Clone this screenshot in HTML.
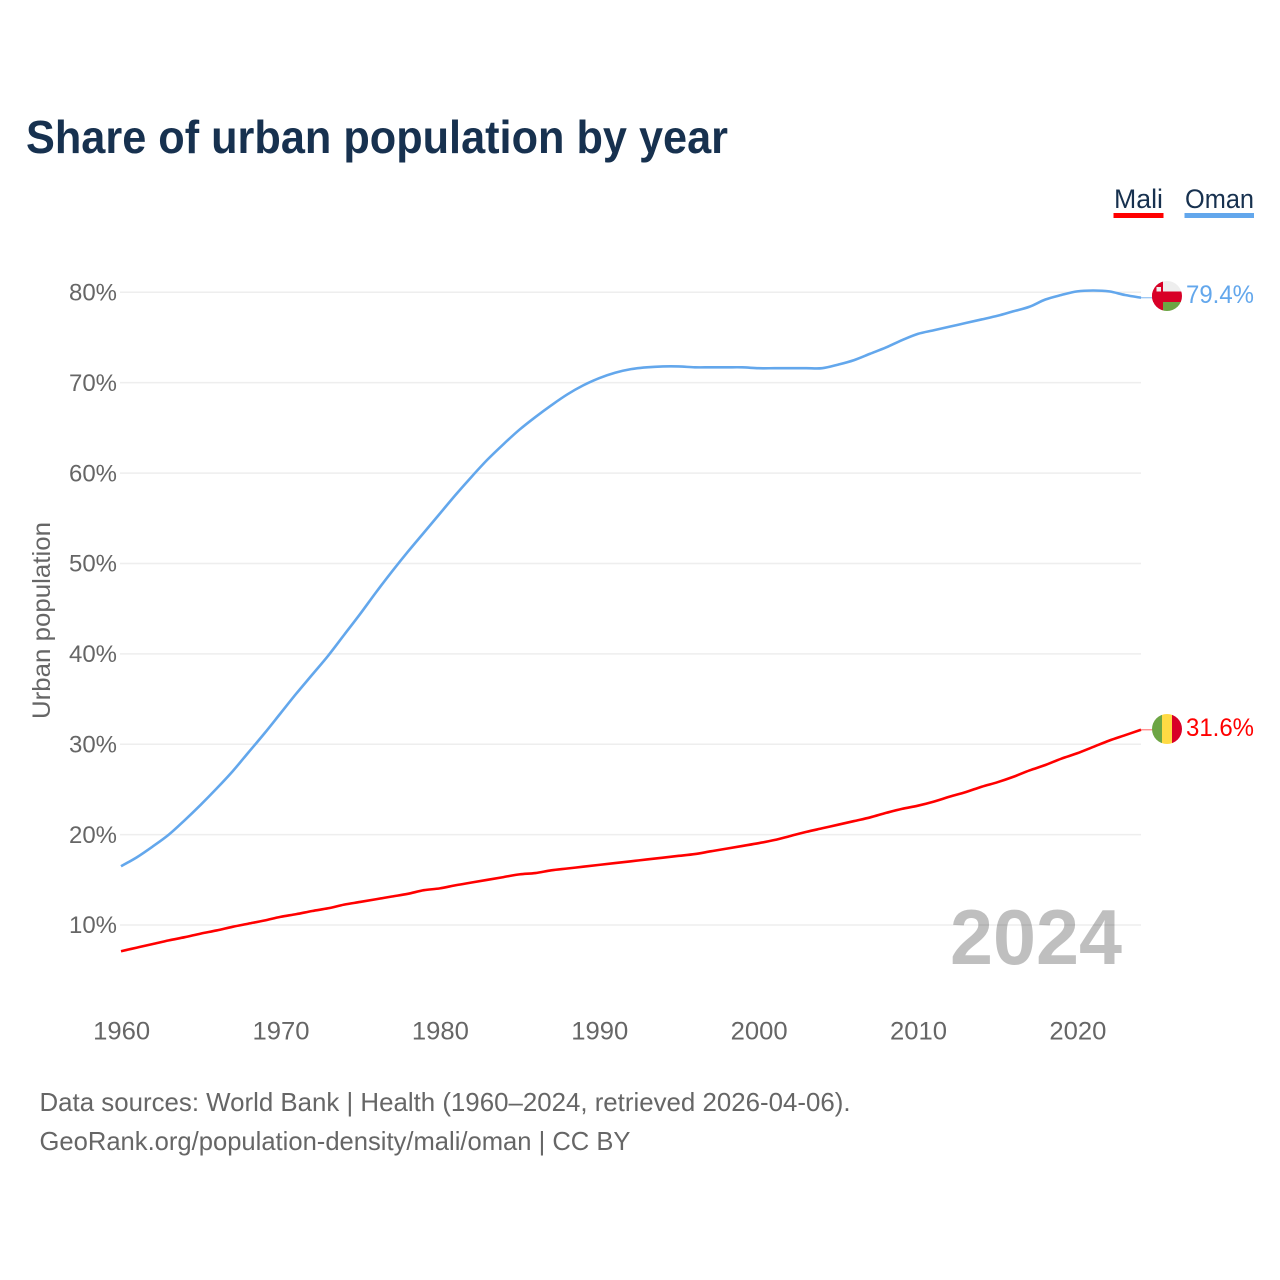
<!DOCTYPE html>
<html lang="en">
<head>
<meta charset="utf-8">
<title>Share of urban population by year</title>
<style>
  html, body { margin: 0; padding: 0; background: #fff; }
  svg { display: block; font-family: "Liberation Sans", sans-serif; }
</style>
</head>
<body>
<svg id="chart" xmlns="http://www.w3.org/2000/svg" width="1280" height="1280" viewBox="0 0 1280 1280">
  <defs>
    <clipPath id="oman-clip"><circle cx="1167" cy="296" r="15"/></clipPath>
    <clipPath id="mali-clip"><circle cx="1167" cy="729" r="15"/></clipPath>
  </defs>
  <rect x="0" y="0" width="1280" height="1280" fill="#fff"/>
  <text x="26" y="153" font-size="46" font-weight="700" fill="#17314f" textLength="702" lengthAdjust="spacingAndGlyphs">Share of urban population by year</text>

  <g>
    <text x="1114" y="208" font-size="27" fill="#17314f" textLength="49" lengthAdjust="spacingAndGlyphs">Mali</text>
    <rect x="1113.5" y="213" width="50" height="5" fill="#ff0000"/>
    <text x="1185" y="208" font-size="27" fill="#17314f" textLength="69" lengthAdjust="spacingAndGlyphs">Oman</text>
    <rect x="1184.5" y="213" width="69.5" height="5" fill="#63a7ec"/>
  </g>

  <g id="grid"></g>
  <g id="y-axis"></g>
  <g id="x-axis"></g>
  <text transform="translate(50,620.5) rotate(-90)" text-anchor="middle" font-size="25" fill="#666666" textLength="197" lengthAdjust="spacingAndGlyphs">Urban population</text>
  <text x="1122" y="964" text-anchor="end" font-size="78" font-weight="700" fill="#000000" fill-opacity="0.25" textLength="172" lengthAdjust="spacingAndGlyphs">2024</text>
  <g id="series"></g>

  <g clip-path="url(#oman-clip)">
    <rect x="1152" y="281" width="30" height="30" fill="#eeeeee"/>
    <rect x="1152" y="291.5" width="30" height="10.5" fill="#d80027"/>
    <rect x="1163" y="302" width="19" height="9" fill="#6da544"/>
    <rect x="1152" y="281" width="11" height="30" fill="#d80027"/>
    <rect x="1156.5" y="287" width="4.5" height="4.5" fill="#eeeeee"/>
  </g>
  <g clip-path="url(#mali-clip)">
    <rect x="1152" y="714" width="10" height="30" fill="#6da544"/>
    <rect x="1162" y="714" width="10" height="30" fill="#ffda44"/>
    <rect x="1172" y="714" width="10" height="30" fill="#d80027"/>
  </g>
  <text id="oman-end-label" x="1186" y="303" font-size="25" fill="#63a7ec" textLength="68" lengthAdjust="spacingAndGlyphs"></text>
  <text id="mali-end-label" x="1186" y="736" font-size="25" fill="#ff0000" textLength="68" lengthAdjust="spacingAndGlyphs"></text>

  <text x="39.5" y="1111" font-size="26" fill="#666666" textLength="811" lengthAdjust="spacingAndGlyphs">Data sources: World Bank | Health (1960–2024, retrieved 2026-04-06).</text>
  <text x="39.5" y="1150" font-size="26" fill="#666666" textLength="591" lengthAdjust="spacingAndGlyphs">GeoRank.org/population-density/mali/oman | CC BY</text>
</svg>
<script>
const firstYear = 1960;
const lastYear = 2024;
const yTickValues = [10, 20, 30, 40, 50, 60, 70, 80];
const yTickLabels = ["10%", "20%", "30%", "40%", "50%", "60%", "70%", "80%"];
const xTickValues = [1960, 1970, 1980, 1990, 2000, 2010, 2020];
const xTickLabels = ["1960", "1970", "1980", "1990", "2000", "2010", "2020"];
const omanValues = [
  16.5, 17.5, 18.7, 20.0, 21.6, 23.3, 25.1, 27.0, 29.1, 31.2,
  33.4, 35.6, 37.7, 39.8, 42.1, 44.4, 46.8, 49.1, 51.3, 53.4,
  55.5, 57.6, 59.6, 61.5, 63.2, 64.8, 66.2, 67.5, 68.7, 69.7,
  70.5, 71.1, 71.5, 71.7, 71.8, 71.8, 71.7, 71.7, 71.7, 71.7,
  71.6, 71.6, 71.6, 71.6, 71.6, 72.0, 72.5, 73.2, 73.9, 74.7,
  75.4, 75.8, 76.2, 76.6, 77.0, 77.4, 77.9, 78.4, 79.2, 79.7,
  80.1, 80.2, 80.1, 79.7, 79.4
];
const maliValues = [
  7.1, 7.5, 7.9, 8.3, 8.65, 9.05, 9.4, 9.8, 10.15, 10.5,
  10.9, 11.2, 11.55, 11.85, 12.25, 12.55, 12.85, 13.15, 13.45, 13.85,
  14.05, 14.4, 14.7, 15.0, 15.3, 15.6, 15.75, 16.05, 16.25, 16.45,
  16.65, 16.85, 17.05, 17.25, 17.45, 17.65, 17.85, 18.15, 18.45, 18.75,
  19.05, 19.4, 19.85, 20.3, 20.7, 21.1, 21.5, 21.9, 22.4, 22.85,
  23.2, 23.65, 24.2, 24.7, 25.3, 25.8, 26.4, 27.1, 27.7, 28.4,
  29.0, 29.7, 30.4, 31.0, 31.6
];

const SVG_NS = "http://www.w3.org/2000/svg";
const plotLeft = 121;
const plotRight = 1141;
const y10 = 925;
const y80 = 292.3;

function xScale(year) {
  return plotLeft + (year - firstYear) * (plotRight - plotLeft) / (lastYear - firstYear);
}
function yScale(value) {
  return y10 + (value - 10) * (y80 - y10) / 70;
}
function make(tag, attrs, text) {
  const el = document.createElementNS(SVG_NS, tag);
  for (const key in attrs) el.setAttribute(key, attrs[key]);
  if (text !== undefined) el.textContent = text;
  return el;
}

const grid = document.getElementById("grid");
const yAxis = document.getElementById("y-axis");
yTickValues.forEach(function (value, i) {
  const y = yScale(value);
  const line = make("line", { x1: plotLeft - 1, x2: plotRight, y1: y, y2: y, stroke: "#eeeeee", "stroke-width": 1.5 });
  
  
  grid.appendChild(line);
  const label = make("text", { x: 117, y: y + 8.2, "text-anchor": "end", "font-size": 24, fill: "#666666", textLength: 48, lengthAdjust: "spacingAndGlyphs" }, yTickLabels[i]);
  
  
  yAxis.appendChild(label);
});

const xAxis = document.getElementById("x-axis");
xTickValues.forEach(function (year, i) {
  const label = make("text", { x: xScale(year) + 0.7, y: 1039.5, "text-anchor": "middle", "font-size": 25, fill: "#666666", textLength: 57, lengthAdjust: "spacingAndGlyphs" }, xTickLabels[i]);
  
  
  xAxis.appendChild(label);
});

function linePath(values) {
  const pts = values.map(function (v, i) {
    return [xScale(firstYear + i), yScale(v)];
  });
  let d = "M" + pts[0][0].toFixed(2) + " " + pts[0][1].toFixed(2);
  for (let i = 0; i < pts.length - 1; i++) {
    const p0 = pts[Math.max(i - 1, 0)];
    const p1 = pts[i];
    const p2 = pts[i + 1];
    const p3 = pts[Math.min(i + 2, pts.length - 1)];
    const c1x = p1[0] + (p2[0] - p0[0]) / 6;
    const c1y = p1[1] + (p2[1] - p0[1]) / 6;
    const c2x = p2[0] - (p3[0] - p1[0]) / 6;
    const c2y = p2[1] - (p3[1] - p1[1]) / 6;
    d += " C" + c1x.toFixed(2) + " " + c1y.toFixed(2) + " " + c2x.toFixed(2) + " " + c2y.toFixed(2) + " " + p2[0].toFixed(2) + " " + p2[1].toFixed(2);
  }
  return d;
}
const seriesGroup = document.getElementById("series");

const omanLine = make("path", { d: linePath(omanValues), fill: "none", stroke: "#63a7ec", "stroke-width": 2.6, "stroke-linejoin": "round" });


seriesGroup.appendChild(omanLine);

const maliLine = make("path", { d: linePath(maliValues), fill: "none", stroke: "#ff0000", "stroke-width": 2.6, "stroke-linejoin": "round" });


seriesGroup.appendChild(maliLine);

const omanLast = omanValues[omanValues.length - 1];
const omanConnector = make("line", { x1: plotRight, x2: 1153, y1: yScale(omanLast), y2: yScale(omanLast), stroke: "#63a7ec", "stroke-width": 1.2, "stroke-opacity": 0.7 });


seriesGroup.appendChild(omanConnector);

const maliLast = maliValues[maliValues.length - 1];
const maliConnector = make("line", { x1: plotRight, x2: 1153, y1: yScale(maliLast), y2: yScale(maliLast), stroke: "#ff0000", "stroke-width": 1.2, "stroke-opacity": 0.5 });


seriesGroup.appendChild(maliConnector);

document.getElementById("oman-end-label").textContent = omanLast.toFixed(1) + "%";
document.getElementById("mali-end-label").textContent = maliLast.toFixed(1) + "%";
</script>
</body>
</html>
